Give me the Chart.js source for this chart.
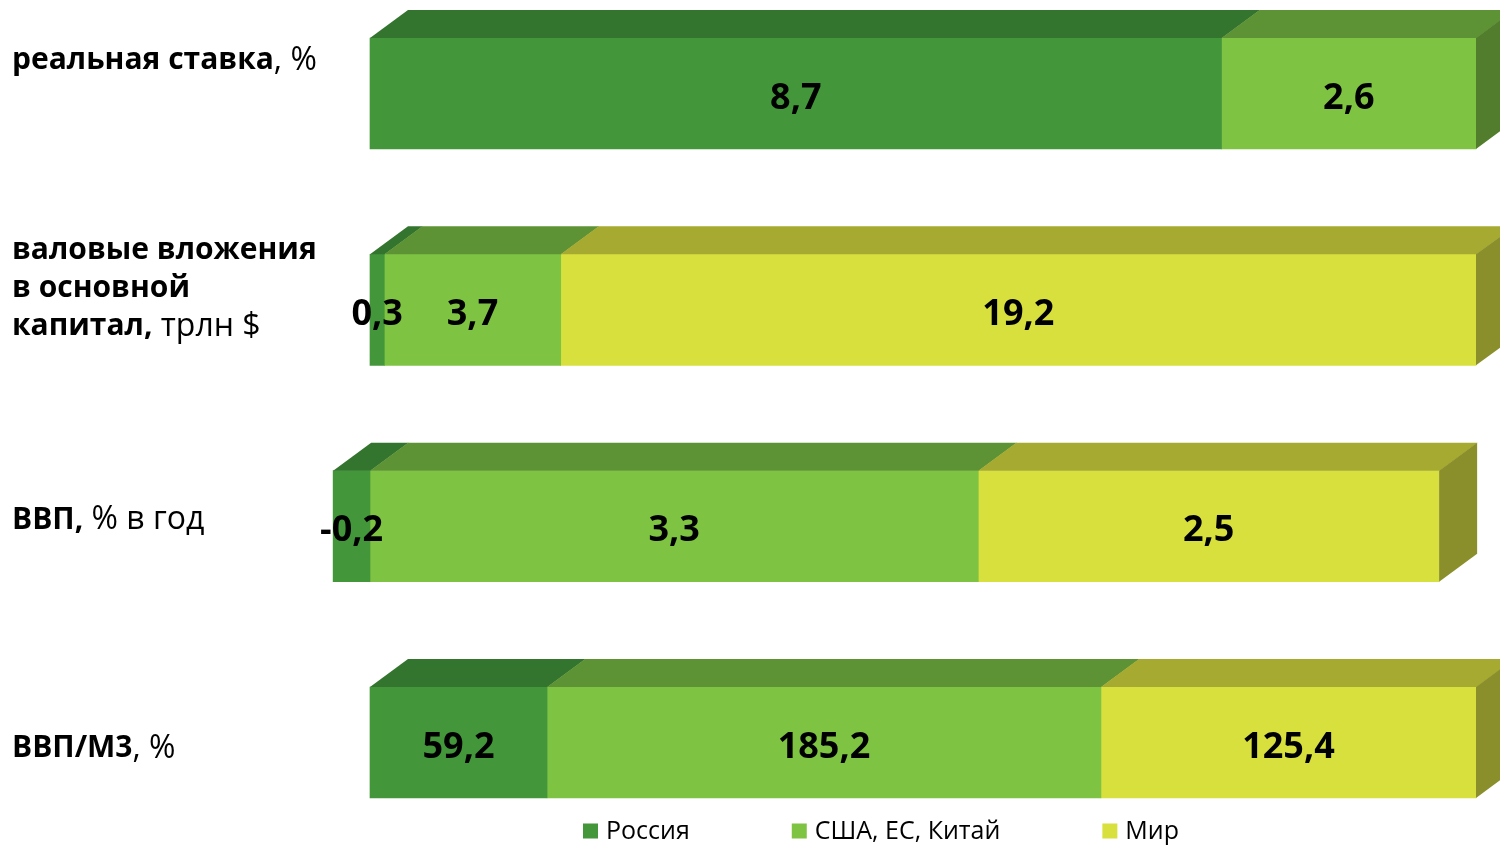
<!DOCTYPE html>
<html lang="ru">
<head>
<meta charset="utf-8">
<title>Россия / США, ЕС, Китай / Мир</title>
<script src="https://cdn.jsdelivr.net/npm/chart.js@4.4.1/dist/chart.umd.min.js"></script>
<style>
    html, body { margin: 0; padding: 0; background: #fff; }
    #wrap { width: 1500px; height: 845px; position: relative; }
</style>
</head>
<body>
<div id="wrap"><canvas id="bars"></canvas></div>
<script>
// row captions, top to bottom; text between ** is bold
var categoryLines = [
    ['**реальная ставка**, %'],
    ['**валовые вложения**', '**в основной**', '**капитал,** трлн $'],
    ['**ВВП,** % в год'],
    ['**ВВП/М3**, %']
];
var seriesNames = ['Россия', 'США, ЕС, Китай', 'Мир'];
var russia = [8.7, 0.3, -0.2, 59.2];
var usaEuChina = [2.6, 3.7, 3.3, 185.2];
var world = [null, 19.2, 2.5, 125.4];

var FONT = '"Open Sans", "DejaVu Sans", sans-serif';

// each row is drawn as 100% of the sum of absolute values
var rows = [russia, usaEuChina, world];
function toShare(values) {
    return values.map(function(v, i) {
        if (v === null) return null;
        var total = 0;
        rows.forEach(function(r) { total += Math.abs(r[i] || 0); });
        return v / total * 100;
    });
}

function fmt(v) {
    return String(v).replace('.', ',');
}

// 3D faces, value labels, captions and legend
var cube = {
    id: 'cube',
    afterDatasetsDraw: function(chart, args, opts) {
        var ctx = chart.ctx;
        var dx = opts.dx, dy = opts.dy;
        ctx.save();
        chart.data.labels.forEach(function(lab, i) {
            var right = null;
            var marks = [];
            chart.data.datasets.forEach(function(ds, d) {
                var bar = chart.getDatasetMeta(d).data[i];
                if (!bar || ds.data[i] === null) return;
                var p = bar.getProps(['x', 'y', 'base', 'height'], true);
                var x1 = Math.min(p.x, p.base), x2 = Math.max(p.x, p.base);
                var top = p.y - p.height / 2;
                ctx.fillStyle = ds.topColor;
                ctx.beginPath();
                ctx.moveTo(x1, top);
                ctx.lineTo(x1 + dx, top - dy);
                ctx.lineTo(x2 + dx + 0.5, top - dy);
                ctx.lineTo(x2 + 0.5, top);
                ctx.closePath();
                ctx.fill();
                if (!right || x2 > right.x) {
                    right = { x: x2, top: top, bottom: top + p.height, color: ds.sideColor };
                }
                marks.push({ x: (x1 + x2) / 2, y: p.y, text: fmt(ds.raw[i]) });
            });
            if (right) {
                ctx.fillStyle = right.color;
                ctx.beginPath();
                ctx.moveTo(right.x, right.top);
                ctx.lineTo(right.x + dx, right.top - dy);
                ctx.lineTo(right.x + dx, right.bottom - dy);
                ctx.lineTo(right.x, right.bottom);
                ctx.closePath();
                ctx.fill();
            }
            ctx.fillStyle = '#000';
            ctx.font = 'bold 36px ' + FONT;
            ctx.textAlign = 'center';
            ctx.textBaseline = 'middle';
            marks.forEach(function(m) {
                ctx.fillText(m.text, m.x, m.y + 5);
            });
        });
        ctx.restore();
    },
    afterDraw: function(chart, args, opts) {
        var ctx = chart.ctx;
        var yScale = chart.scales.y;
        ctx.save();
        ctx.fillStyle = '#000';
        ctx.textAlign = 'left';
        ctx.textBaseline = 'middle';
        categoryLines.forEach(function(lines, i) {
            var cy = yScale.getPixelForValue(i) + opts.captionShift[i];
            var y0 = cy - (lines.length - 1) * opts.lineGap / 2;
            lines.forEach(function(line, k) {
                var x = opts.captionX;
                line.split('**').forEach(function(part, j) {
                    if (!part) return;
                    ctx.font = j % 2 ? 'bold ' + opts.boldSize + 'px ' + FONT : opts.plainSize + 'px ' + FONT;
                    ctx.fillText(part, x, y0 + k * opts.lineGap);
                    x += ctx.measureText(part).width;
                });
            });
        });

        // legend
        ctx.font = '25px ' + FONT;
        var x = opts.legendX;
        var y = opts.legendY;
        chart.data.datasets.forEach(function(ds) {
            ctx.fillStyle = ds.backgroundColor;
            ctx.fillRect(x, y - 7.5, 15, 15);
            ctx.fillStyle = '#000';
            ctx.fillText(ds.label, x + 23, y + 1);
            x += 23 + ctx.measureText(ds.label).width + opts.legendGap;
        });
        ctx.restore();
    }
};

var datasets = [
    { label: seriesNames[0], raw: russia, data: toShare(russia),
      backgroundColor: '#43963a', topColor: '#33742e', sideColor: '#2c6428' },
    { label: seriesNames[1], raw: usaEuChina, data: toShare(usaEuChina),
      backgroundColor: '#7fc343', topColor: '#5e9335', sideColor: '#527d2c' },
    { label: seriesNames[2], raw: world, data: toShare(world),
      backgroundColor: '#d7e03c', topColor: '#a6aa30', sideColor: '#8a8f2c' }
];
datasets.forEach(function(ds) {
    ds.barThickness = 111;
    ds.borderWidth = 0;
    ds.clip = false;
});

new Chart(document.getElementById('bars'), {
    type: 'bar',
    data: {
        labels: categoryLines.map(function(l) { return l.join(' ').replace(/\*\*/g, ''); }),
        datasets: datasets
    },
    options: {
        indexAxis: 'y',
        responsive: true,
        maintainAspectRatio: false,
        animation: false,
        layout: { padding: { left: 314.7, right: 24, top: 93.5, bottom: 102.5 } },
        scales: {
            x: { stacked: true, min: -5, max: 100, display: false },
            y: { stacked: true, display: false, offset: false }
        },
        plugins: {
            legend: { display: false },
            tooltip: { enabled: false },
            cube: {
                dx: 38, dy: 28,
                captionX: 12, boldSize: 30, plainSize: 32, lineGap: 38,
                captionShift: [-33, -21, -6, 6],
                legendX: 583, legendY: 831, legendGap: 102
            }
        }
    },
    plugins: [cube]
});
</script>
</body>
</html>
